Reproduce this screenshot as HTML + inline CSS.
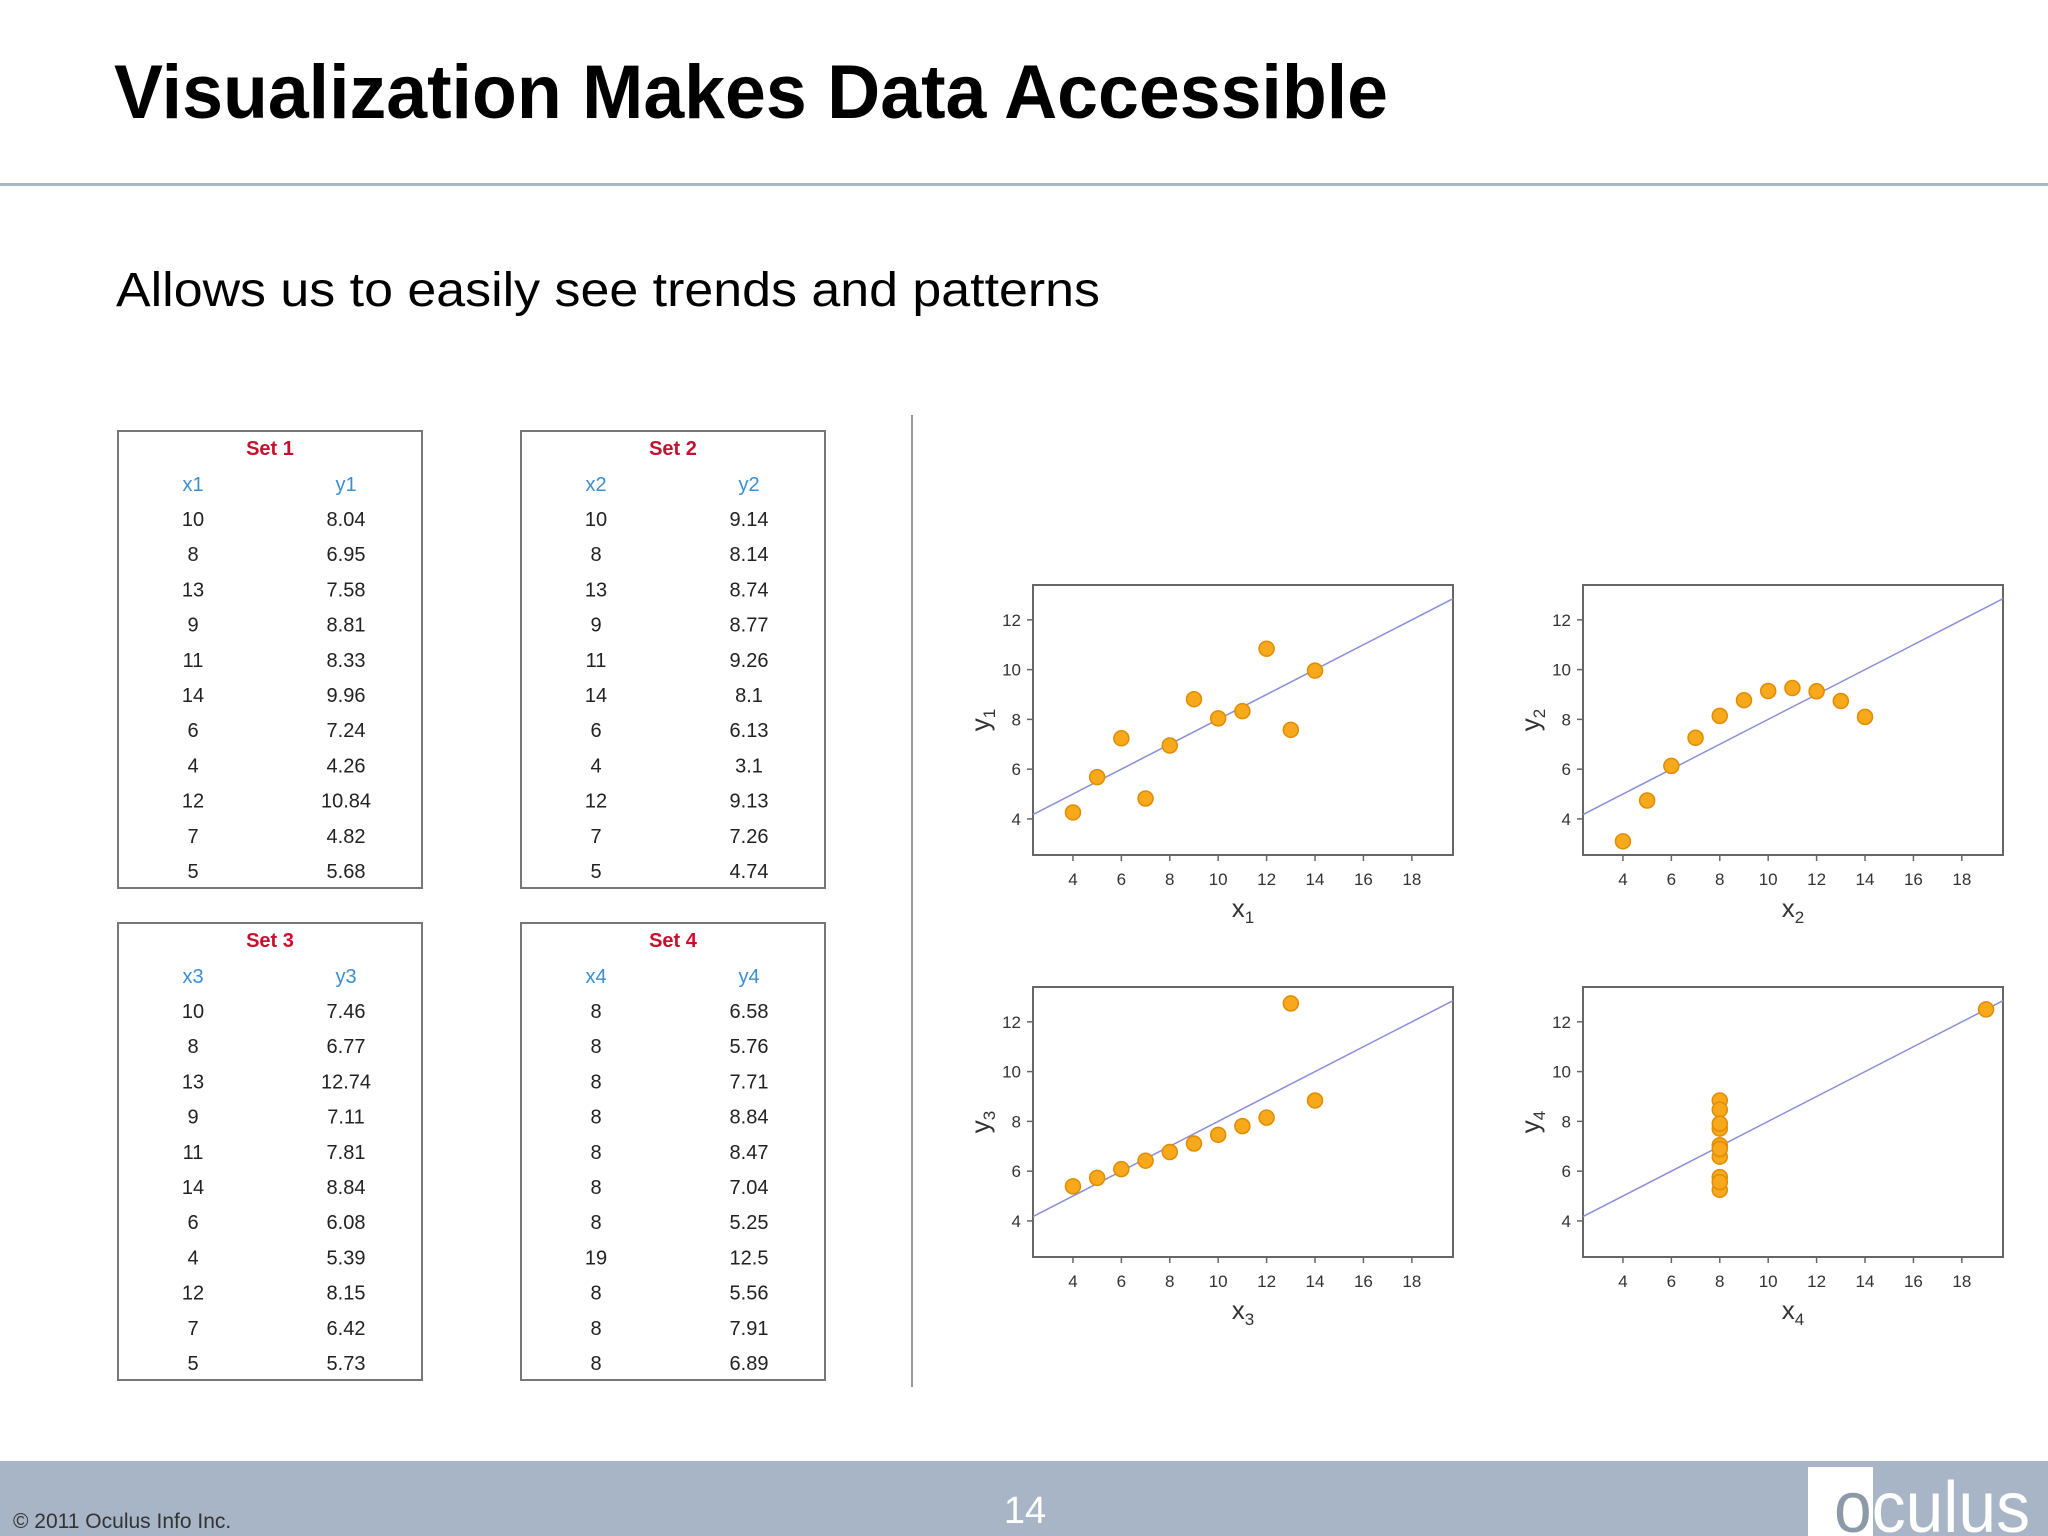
<!DOCTYPE html>
<html><head><meta charset="utf-8"><style>
html,body{margin:0;padding:0;background:#fff;}
svg{display:block;}
</style></head><body>
<svg id="root" width="2048" height="1536" viewBox="0 0 2048 1536" xmlns="http://www.w3.org/2000/svg" font-family="Liberation Sans, sans-serif">
<rect x="0" y="0" width="2048" height="1536" fill="#fff"/>
<text x="114" y="118" font-size="76" font-weight="bold" fill="#000" textLength="1274" lengthAdjust="spacingAndGlyphs">Visualization Makes Data Accessible</text>
<rect x="0" y="183" width="2048" height="3" fill="#a9b6c8"/>
<text x="116" y="306" font-size="48" fill="#000" textLength="984" lengthAdjust="spacingAndGlyphs">Allows us to easily see trends and patterns</text>
<line x1="912" y1="415" x2="912" y2="1387" stroke="#999" stroke-width="2"/>
<g id="tables"></g>
<g id="plots"></g>
<rect x="0" y="1461" width="2048" height="75" fill="#a7b5c7"/>
<text x="13" y="1528" font-size="21" fill="#333">© 2011 Oculus Info Inc.</text>
<text x="1025" y="1523" font-size="38" fill="#fff" text-anchor="middle">14</text>
<g>
<rect x="1808" y="1467" width="65" height="69" fill="#fff"/>
<text x="1834" y="1532" font-size="72" fill="#fff" textLength="196" lengthAdjust="spacingAndGlyphs"><tspan fill="#8c9aa8">o</tspan>culus</text>
</g>
</svg>
<script>
const setNames = ["Set 1","Set 2","Set 3","Set 4"];
const xHeaders = ["x1","x2","x3","x4"];
const yHeaders = ["y1","y2","y3","y4"];
const xs1 = [10,8,13,9,11,14,6,4,12,7,5];
const ys1 = [8.04,6.95,7.58,8.81,8.33,9.96,7.24,4.26,10.84,4.82,5.68];
const xs2 = [10,8,13,9,11,14,6,4,12,7,5];
const ys2 = [9.14,8.14,8.74,8.77,9.26,8.1,6.13,3.1,9.13,7.26,4.74];
const xs3 = [10,8,13,9,11,14,6,4,12,7,5];
const ys3 = [7.46,6.77,12.74,7.11,7.81,8.84,6.08,5.39,8.15,6.42,5.73];
const xs4 = [8,8,8,8,8,8,8,19,8,8,8];
const ys4 = [6.58,5.76,7.71,8.84,8.47,7.04,5.25,12.5,5.56,7.91,6.89];
const ysLabels = ["8.04","6.95","7.58","8.81","8.33","9.96","7.24","4.26","10.84","4.82","5.68"];
const xTicks = [4,6,8,10,12,14,16,18];
const yTicks = [4,6,8,10,12];
const fitIntercept = 3, fitSlope = 0.5;

const NS = "http://www.w3.org/2000/svg";
function mk(tag, attrs, parent){const e=document.createElementNS(NS,tag);for(const k in attrs)e.setAttribute(k,attrs[k]);parent.appendChild(e);return e;}
const sets = [[xs1,ys1],[xs2,ys2],[xs3,ys3],[xs4,ys4]];
const fmt = v => String(v);

// tables
const tg = document.getElementById('tables');
const tpos = [[118,431],[521,431],[118,923],[521,923]];
sets.forEach((s,i)=>{
  const [tx,ty]=tpos[i];
  const g=mk('g',{},tg);
  
  
  mk('rect',{x:tx,y:ty,width:304,height:457,fill:'#fff',stroke:'#777','stroke-width':2},g);
  const t=mk('text',{x:tx+152,y:ty+24,'font-size':20,'font-weight':'bold',fill:'#c8102e','text-anchor':'middle'},g);
  t.textContent=setNames[i];
  
  
  const hx=mk('text',{x:tx+75,y:ty+60,'font-size':20,fill:'#3a8fd0','text-anchor':'middle'},g);
  hx.textContent=xHeaders[i];
  const hy=mk('text',{x:tx+228,y:ty+60,'font-size':20,fill:'#3a8fd0','text-anchor':'middle'},g);
  hy.textContent=yHeaders[i];
  s[0].forEach((xv,j)=>{
    const yy=ty+95+j*35.2;
    const a=mk('text',{x:tx+75,y:yy,'font-size':20,fill:'#222','text-anchor':'middle'},g);
    a.textContent=fmt(xv);
    const b=mk('text',{x:tx+228,y:yy,'font-size':20,fill:'#222','text-anchor':'middle'},g);
    b.textContent=(i===0?ysLabels[j]:fmt(s[1][j]));
  });
});

// plots
const pg=document.getElementById('plots');
const ppos=[[1033,585],[1583,585],[1033,987],[1583,987]];
const W=420,H=270;
const xmin=2.35,xmax=19.7,ymin=2.55,ymax=13.4;
sets.forEach((s,i)=>{
  const [px,py]=ppos[i];
  const sx=v=>px+(v-xmin)/(xmax-xmin)*W;
  const sy=v=>py+H-(v-ymin)/(ymax-ymin)*H;
  const g=mk('g',{},pg);
  
  
  mk('rect',{x:px,y:py,width:W,height:H,fill:'#fff',stroke:'#666','stroke-width':2},g);
  xTicks.forEach(t=>{
    mk('line',{x1:sx(t),y1:py+H,x2:sx(t),y2:py+H+6,stroke:'#666','stroke-width':1.5},g);
    const l=mk('text',{x:sx(t),y:py+H+30,'font-size':17,fill:'#333','text-anchor':'middle'},g);
    l.textContent=t;
  });
  yTicks.forEach(t=>{
    mk('line',{x1:px-6,y1:sy(t),x2:px,y2:sy(t),stroke:'#666','stroke-width':1.5},g);
    const l=mk('text',{x:px-12,y:sy(t)+6,'font-size':17,fill:'#333','text-anchor':'end'},g);
    l.textContent=t;
  });
  const xl=mk('text',{x:px+210,y:py+H+62,'font-size':26,fill:'#333','text-anchor':'middle'},g);
  xl.innerHTML='x<tspan font-size="17" dy="6">'+(i+1)+'</tspan>';
  
  
  const yl=mk('text',{x:0,y:0,'font-size':26,fill:'#333','text-anchor':'middle',transform:'translate('+(px-44)+','+(py+135)+') rotate(-90)'},g);
  yl.innerHTML='y<tspan font-size="17" dy="6">'+(i+1)+'</tspan>';
  
  
  // fit line clipped to box
  const yAt=x=>fitIntercept+fitSlope*x;
  let x2=xmax; if(yAt(x2)>ymax) x2=(ymax-fitIntercept)/fitSlope;
  const fl=mk('line',{x1:sx(xmin),y1:sy(yAt(xmin)),x2:sx(x2),y2:sy(yAt(x2)),stroke:'#8a8fd8','stroke-width':1.5},g);
  
  
  s[0].forEach((xv,j)=>{
    const c=mk('circle',{cx:sx(xv),cy:sy(s[1][j]),r:7.5,fill:'#f7a81b',stroke:'#e28c00','stroke-width':1.5},g);
    
    
  });
});
</script>
</body></html>
